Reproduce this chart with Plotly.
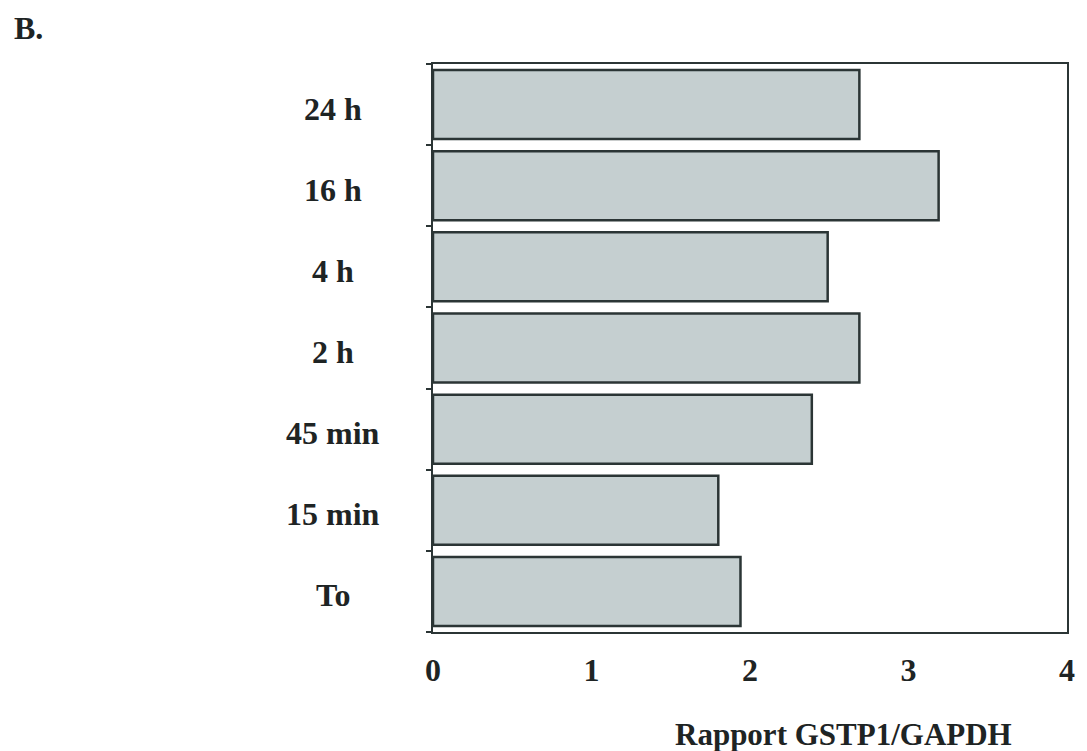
import plotly.graph_objects as go

categories = ["To", "15 min", "45 min", "2 h", "4 h", "16 h", "24 h"]
values = [1.94, 1.8, 2.39, 2.69, 2.49, 3.19, 2.69]
x_ticks = [0, 1, 2, 3, 4]

FONT = "Liberation Serif"
DARK = "#2b3535"
TXT = "#1e2424"

fig = go.Figure()
fig.add_trace(go.Bar(
    y=categories, x=values, orientation="h",
    marker=dict(color="#c5cfd0", line=dict(color=DARK, width=2.5)),
    showlegend=False, hoverinfo="skip",
))

fig.update_layout(
    width=1087, height=751,
    margin=dict(l=433, r=14, t=64, b=119),
    paper_bgcolor="white", plot_bgcolor="white",
    bargap=0.15,
    font=dict(family=FONT, size=32, color=TXT),
    xaxis=dict(
        range=[0, 4], tickvals=x_ticks, showgrid=False, zeroline=False,
        showline=True, mirror=True, linecolor=DARK, linewidth=2,
        ticks="", ticklabelstandoff=9,
        tickfont=dict(family=FONT, size=32, color=TXT, weight="bold"),
    ),
    yaxis=dict(
        categoryorder="array", categoryarray=categories,
        showgrid=False, zeroline=False,
        showline=True, mirror=True, linecolor=DARK, linewidth=2,
        ticks="outside", ticklen=5, tickwidth=2, tickcolor=DARK,
        tickson="boundaries", showticklabels=False,
        range=[-0.5, len(categories) - 0.5],
    ),
)

for c in categories:
    fig.add_annotation(
        x=-0.158, xref="paper", y=c, yref="y", text=c, showarrow=False,
        xanchor="center", yanchor="middle", yshift=-4,
        font=dict(family=FONT, size=32, color=TXT, weight="bold"),
    )

fig.add_annotation(
    x=0.647, xref="paper", y=-0.181, yref="paper", text="Rapport GSTP1/GAPDH",
    showarrow=False, xanchor="center", yanchor="middle",
    font=dict(family=FONT, size=31, color=TXT, weight="bold"),
)
fig.add_annotation(
    x=-0.664, xref="paper", y=1.063, yref="paper", text="B.",
    showarrow=False, xanchor="left", yanchor="middle",
    font=dict(family=FONT, size=32, color=TXT, weight="bold"),
)

fig.write_html(
    "out.html",
    config={"displayModeBar": False, "staticPlot": True},
    post_script="document.body.style.margin='0';document.body.style.overflow='hidden';",
)
